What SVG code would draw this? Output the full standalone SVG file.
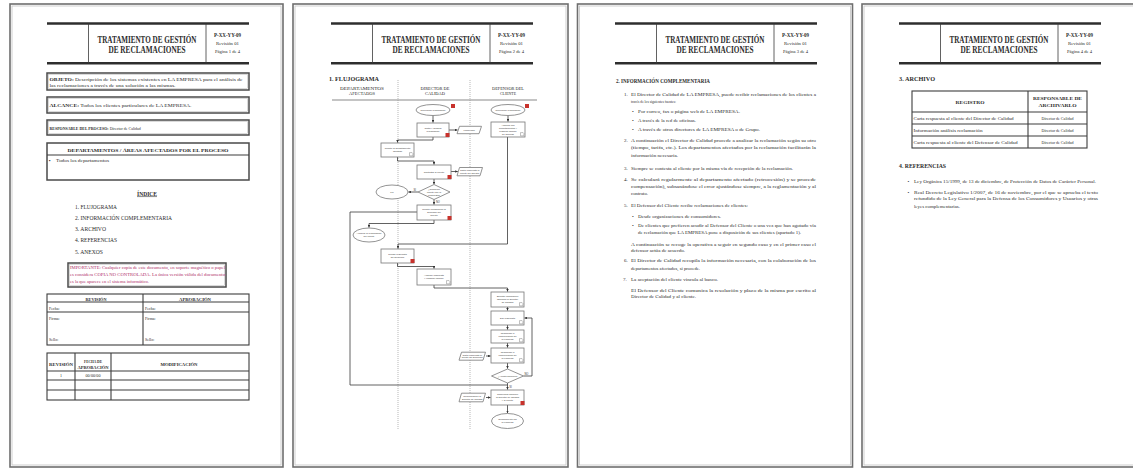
<svg xmlns="http://www.w3.org/2000/svg" xmlns:xlink="http://www.w3.org/1999/xlink" width="1133" height="468" viewBox="0 0 1133 468">
<style>
  text{font-family:"Liberation Serif","Times New Roman",serif;fill:#2b2b2b}
  .sheet{fill:#fff;stroke:#6e6e6e;stroke-width:1.6}
  .sheet-in{fill:none;stroke:#c4c4c4;stroke-width:0.8}
  .rule{stroke:#2e2e2e;stroke-width:2.4}
  .thin{stroke:#3a3a3a;stroke-width:0.8;fill:none}
  .box{fill:none;stroke:#4a4a4a;stroke-width:1.5}
  .box-in{fill:none;stroke:#b5b5b5;stroke-width:0.5}
  .tbl{fill:none;stroke:#3d3d3d;stroke-width:1.1}
  .title{font-size:9.5px;font-weight:bold;text-anchor:middle}
  .code{font-size:5.2px;font-weight:bold;text-anchor:middle}
  .meta{font-size:4.3px;text-anchor:middle}
  .t5{font-size:5px}
  .t45{font-size:4.5px}
  .hb{font-size:5.6px;font-weight:bold}
  .b{font-weight:bold}
  .mid{text-anchor:middle}
  .imp{font-size:4.3px;fill:#b0306a}
  .lane{stroke:#9a9a9a;stroke-width:0.7;stroke-dasharray:1 1}
  .fc{fill:#fff;stroke:#777;stroke-width:0.8}
  .fct{font-family:"Liberation Sans",Arial,sans-serif;font-size:2.4px;text-anchor:middle;fill:#333}
  .flag{fill:#c8322c;stroke:none}
  .doc{fill:#fff;stroke:#666;stroke-width:0.4}
  .wire{fill:none;stroke:#3a3a3a;stroke-width:0.8}
  .lbl{font-family:"Liberation Sans",Arial,sans-serif;font-size:2.6px;fill:#333}
</style>
<defs>
  <marker id="ah" viewBox="0 0 6 6" refX="6" refY="3" markerWidth="3.2" markerHeight="3.2" orient="auto">
    <path d="M0,0 L6,3 L0,6z" fill="#333"/>
  </marker>
  <!-- document title block shared by every sheet -->
  <g id="hdr">
    <line class="rule" x1="0" y1="23.5" x2="202" y2="23.5"/>
    <line class="rule" x1="0" y1="63.3" x2="202" y2="63.3"/>
    <line class="thin" x1="41.5" y1="23.5" x2="41.5" y2="63.3"/>
    <line class="thin" x1="159" y1="23.5" x2="159" y2="63.3"/>
    <text class="title" x="100" y="42.5" textLength="99" lengthAdjust="spacingAndGlyphs">TRATAMIENTO DE GESTIÓN</text>
    <text class="title" x="100" y="53.3" textLength="77" lengthAdjust="spacingAndGlyphs">DE RECLAMACIONES</text>
    <text class="code" x="180.5" y="36.5" textLength="27" lengthAdjust="spacingAndGlyphs">P-XX-YY-09</text>
    <text class="meta" x="180.5" y="44.8" textLength="23" lengthAdjust="spacingAndGlyphs">Revisión 01</text>
  </g>
  <path id="docicon" d="M0,0 h2.6 l0.8,0.8 v2.4 h-3.4z"/>
</defs>

<rect width="1133" height="468" fill="#fff"/>

<!-- ===================== Sheet 1: cover ===================== -->
<g id="page1">
  <rect class="sheet" x="10" y="4" width="273" height="463"/>
  <rect class="sheet-in" x="12" y="6" width="269" height="459"/>
  <use href="#hdr" x="47" y="0"/>
  <text class="meta" x="227.5" y="53.2" textLength="25" lengthAdjust="spacingAndGlyphs">Página 1 de 4</text>

  <g id="objeto">
    <rect class="box" x="47" y="73" width="202" height="17"/>
    <rect class="box-in" x="48.3" y="74.3" width="199.4" height="14.4"/>
    <text class="t5" x="49.5" y="80.6" textLength="193" lengthAdjust="spacingAndGlyphs"><tspan class="b">OBJETO:</tspan> Descripción de los sistemas existentes en LA EMPRESA para el análisis de</text>
    <text class="t5" x="49.5" y="87.4" textLength="126" lengthAdjust="spacingAndGlyphs">las reclamaciones a través de una solución a las mismas.</text>
  </g>
  <g id="alcance">
    <rect class="box" x="47" y="97" width="202" height="16"/>
    <rect class="box-in" x="48.3" y="98.3" width="199.4" height="13.4"/>
    <text class="t5" x="49.5" y="107.4" textLength="142" lengthAdjust="spacingAndGlyphs"><tspan class="b">ALCANCE:</tspan> Todos los clientes particulares de LA EMPRESA.</text>
  </g>
  <g id="responsable">
    <rect class="box" x="47" y="120" width="202" height="15"/>
    <rect class="box-in" x="48.3" y="121.3" width="199.4" height="12.4"/>
    <text class="t5" transform="translate(49.5 129.8) scale(0.79 1)"><tspan class="b">RESPONSABLE DEL PROCESO:</tspan> Director de Calidad</text>
  </g>
  <g id="departamentos">
    <rect class="box" x="47" y="143" width="202" height="37"/>
    <line class="tbl" x1="47" y1="155" x2="249" y2="155"/>
    <text class="t5 b mid" x="148" y="151.8" textLength="161" lengthAdjust="spacingAndGlyphs">DEPARTAMENTOS / ÁREAS AFECTADOS POR EL PROCESO</text>
    <text class="t45" x="49" y="162">▪</text>
    <text class="t5" x="56" y="162" textLength="53" lengthAdjust="spacingAndGlyphs">Todos los departamentos</text>
  </g>

  <g id="indice">
    <text class="mid b" x="147" y="195.5" font-size="5.4" text-decoration="underline" textLength="20" lengthAdjust="spacingAndGlyphs">ÍNDICE</text>
    <text x="75" y="209" font-size="5.2" fill="#444" textLength="42" lengthAdjust="spacingAndGlyphs">1. FLUJOGRAMA</text>
    <text x="75" y="220" font-size="5.2" fill="#444" textLength="97" lengthAdjust="spacingAndGlyphs">2. INFORMACIÓN COMPLEMENTARIA</text>
    <text x="75" y="231.3" font-size="5.2" fill="#444" textLength="31" lengthAdjust="spacingAndGlyphs">3. ARCHIVO</text>
    <text x="75" y="242.3" font-size="5.2" fill="#444" textLength="42" lengthAdjust="spacingAndGlyphs">4. REFERENCIAS</text>
    <text x="75" y="253.5" font-size="5.2" fill="#444" textLength="28" lengthAdjust="spacingAndGlyphs">5. ANEXOS</text>
  </g>

  <g id="importante">
    <rect class="box" x="68" y="263" width="158" height="24"/>
    <rect class="box-in" x="69.3" y="264.3" width="155.4" height="21.4"/>
    <text class="imp" x="70" y="269.2" textLength="155" lengthAdjust="spacingAndGlyphs">IMPORTANTE: Cualquier copia de este documento, en soporte magnético o papel</text>
    <text class="imp" x="70" y="276.3" textLength="155" lengthAdjust="spacingAndGlyphs">es considera COPIA NO CONTROLADA. La única versión válida del documento</text>
    <text class="imp" x="70" y="282.6" textLength="79" lengthAdjust="spacingAndGlyphs">es la que aparece en el sistema informático.</text>
  </g>

  <g id="firmas">
    <rect class="tbl" x="47" y="294" width="202" height="51"/>
    <line class="tbl" x1="143" y1="294" x2="143" y2="345"/>
    <line class="tbl" x1="47" y1="302" x2="249" y2="302"/>
    <line class="tbl" x1="47" y1="312" x2="249" y2="312"/>
    <text class="mid b" x="96" y="300.5" font-size="4.3" textLength="21" lengthAdjust="spacingAndGlyphs">REVISIÓN</text>
    <text class="mid b" x="195" y="300.5" font-size="4.3" textLength="32" lengthAdjust="spacingAndGlyphs">APROBACIÓN</text>
    <text x="49" y="309.6" font-size="4">Fecha:</text>
    <text x="145" y="309.6" font-size="4">Fecha:</text>
    <text x="49" y="320.3" font-size="4">Firma:</text>
    <text x="145" y="320.3" font-size="4">Firma:</text>
    <text x="49" y="341.2" font-size="4">Sello:</text>
    <text x="145" y="341.2" font-size="4">Sello:</text>
  </g>

  <g id="historial">
    <rect class="tbl" x="47" y="353" width="202" height="47"/>
    <line class="tbl" x1="75" y1="353" x2="75" y2="400"/>
    <line class="tbl" x1="111" y1="353" x2="111" y2="400"/>
    <line class="tbl" x1="47" y1="371" x2="249" y2="371"/>
    <line class="tbl" x1="47" y1="380" x2="249" y2="380"/>
    <line class="tbl" x1="47" y1="390" x2="249" y2="390"/>
    <text class="mid b" x="61" y="366.4" font-size="4" textLength="24" lengthAdjust="spacingAndGlyphs">REVISIÓN</text>
    <text class="mid b" x="93" y="362.6" font-size="4" textLength="18" lengthAdjust="spacingAndGlyphs">FECHA DE</text>
    <text class="mid b" x="93" y="368.6" font-size="4" textLength="31" lengthAdjust="spacingAndGlyphs">APROBACIÓN</text>
    <text class="mid b" x="179" y="366.4" font-size="4" textLength="37" lengthAdjust="spacingAndGlyphs">MODIFICACIÓN</text>
    <text class="mid" x="61" y="377.3" font-size="4">1</text>
    <text class="mid" x="93" y="377.3" font-size="4" textLength="15" lengthAdjust="spacingAndGlyphs">00/00/00</text>
  </g>
</g>

<!-- ===================== Sheet 2: flow chart ===================== -->
<g id="page2">
  <rect class="sheet" x="293" y="4" width="275" height="463"/>
  <rect class="sheet-in" x="295" y="6" width="271" height="459"/>
  <use href="#hdr" x="331" y="0"/>
  <text class="meta" x="511.5" y="53.2" textLength="25" lengthAdjust="spacingAndGlyphs">Página 2 de 4</text>
  <text class="hb" x="329" y="80.5" textLength="50" lengthAdjust="spacingAndGlyphs">1. FLUJOGRAMA</text>

  <g id="swimlanes">
    <text class="mid" x="362" y="89.5" font-size="3.4" textLength="44" lengthAdjust="spacingAndGlyphs">DEPARTAMENTOS</text>
    <text class="mid" x="362" y="94.5" font-size="3.4" textLength="26" lengthAdjust="spacingAndGlyphs">AFECTADOS</text>
    <text class="mid" x="435" y="89.5" font-size="3.4" textLength="29" lengthAdjust="spacingAndGlyphs">DIRECTOR DE</text>
    <text class="mid" x="435" y="94.5" font-size="3.4" textLength="20" lengthAdjust="spacingAndGlyphs">CALIDAD</text>
    <text class="mid" x="508" y="89.5" font-size="3.4" textLength="32" lengthAdjust="spacingAndGlyphs">DEFENSOR DEL</text>
    <text class="mid" x="508" y="94.5" font-size="3.4" textLength="16" lengthAdjust="spacingAndGlyphs">CLIENTE</text>
    <line x1="332" y1="100" x2="537" y2="100" stroke="#8a8a8a" stroke-width="1.2"/>
    <line class="lane" x1="398" y1="80" x2="398" y2="430"/>
    <line class="lane" x1="470" y1="80" x2="470" y2="430"/>
  </g>

  <g id="connectors">
    <path class="wire" d="M433,115.5 V122.6" marker-end="url(#ah)"/>
    <path class="wire" d="M508,115.5 V121.6" marker-end="url(#ah)"/>
    <path class="wire" d="M449,130 H457.5" marker-end="url(#ah)"/>
    <path class="wire" d="M433,137 V140 H397.5 V142.6" marker-end="url(#ah)"/>
    <path class="wire" d="M507.5,137 V244 H398 V248.6" marker-end="url(#ah)"/>
    <path class="wire" d="M397.5,157 V161 H434 V164.6" marker-end="url(#ah)"/>
    <path class="wire" d="M451,171.5 H457.8" marker-end="url(#ah)"/>
    <path class="wire" d="M434,179 V184.2" marker-end="url(#ah)"/>
    <path class="wire" d="M418,192 H408.4" marker-end="url(#ah)"/>
    <path class="wire" d="M434,199.5 V204.6" marker-end="url(#ah)"/>
    <path class="wire" d="M417,212 H350 V385 H507.5"/>
    <path class="wire" d="M434,220 V223.5 H369 V227.6" marker-end="url(#ah)"/>
    <path class="wire" d="M397.5,263 V266.5 H434 V268.6" marker-end="url(#ah)"/>
    <path class="wire" d="M434,285 V288 H507.5 V291.6" marker-end="url(#ah)"/>
    <path class="wire" d="M507.5,307 V310.6" marker-end="url(#ah)"/>
    <path class="wire" d="M507.5,325 V329.6" marker-end="url(#ah)"/>
    <path class="wire" d="M507.5,343 V347.6" marker-end="url(#ah)"/>
    <path class="wire" d="M486,356 H490.6" marker-end="url(#ah)"/>
    <path class="wire" d="M507.5,363 V368.6" marker-end="url(#ah)"/>
    <path class="wire" d="M523.5,376 H532 V318 H524.4" marker-end="url(#ah)"/>
    <path class="wire" d="M507.5,383 V389.6" marker-end="url(#ah)"/>
    <path class="wire" d="M486,397.5 H490.6" marker-end="url(#ah)"/>
    <path class="wire" d="M507.5,405 V413.1" marker-end="url(#ah)"/>
    <text class="lbl" x="413.5" y="190.5">SI</text>
    <text class="lbl" x="436" y="202.8">NO</text>
    <text class="lbl" x="524.5" y="374.8">NO</text>
    <text class="lbl" x="509.3" y="388">SI</text>
  </g>

  <g id="n-recepcion-director">
    <ellipse class="fc" cx="433" cy="110" rx="17" ry="5.5"/>
    <text class="fct" x="433" y="110.9">Recepción reclamación</text>
    <rect class="flag" x="451" y="104" width="4" height="4"/>
  </g>
  <g id="n-recepcion-defensor">
    <ellipse class="fc" cx="508" cy="110" rx="17" ry="5.5"/>
    <text class="fct" x="508" y="110.9">Recepción reclamación</text>
    <rect class="flag" x="525" y="104" width="4" height="4"/>
  </g>
  <g id="n-tratar">
    <rect class="fc" x="417" y="123" width="32" height="14"/>
    <text class="fct" x="433" y="129">Tratar y analizar</text>
    <text class="fct" x="433" y="132">reclamación</text>
    <rect class="flag" x="445.5" y="133" width="4" height="4"/>
  </g>
  <g id="n-formulario">
    <path class="fc" d="M459.5,126.3 H481.5 L479,133.7 H457z"/>
    <text class="fct" x="469.2" y="130.9">Formulario</text>
  </g>
  <g id="n-analizar-defensor">
    <rect class="fc" x="491" y="122" width="34" height="15"/>
    <text class="fct" x="508" y="126.3">Analizar con</text>
    <text class="fct" x="508" y="129.3">departamentos y</text>
    <text class="fct" x="508" y="132.3">elaborar informe</text>
    <text class="fct" x="508" y="135.3">de defensa</text>
    <use href="#docicon" class="doc" x="520.5" y="132.6"/>
  </g>
  <g id="n-remitir-departamento">
    <rect class="fc" x="381" y="143" width="33" height="14"/>
    <text class="fct" x="397.5" y="149">Remitir al departamento</text>
    <text class="fct" x="397.5" y="152">afectado</text>
    <use href="#docicon" class="doc" x="409.5" y="152.6"/>
  </g>
  <g id="n-contestar">
    <rect class="fc" x="417" y="165" width="34" height="14"/>
    <text class="fct" x="434" y="172.8">Contestar al cliente</text>
    <rect class="flag" x="447.5" y="175" width="4" height="4"/>
  </g>
  <g id="n-carta-director">
    <path class="fc" d="M459.5,167.5 H482.5 L480,175.8 H457z"/>
    <text class="fct" x="469.7" y="171">Carta respuesta al</text>
    <text class="fct" x="469.7" y="173.8">cliente del director</text>
  </g>
  <g id="n-conforme">
    <path class="fc" d="M434,184.5 L450,192 L434,199.5 L418,192z"/>
    <text class="fct" x="434" y="190.2">¿Conforme</text>
    <text class="fct" x="434" y="192.9">cliente con la</text>
    <text class="fct" x="434" y="195.6">respuesta?</text>
  </g>
  <g id="n-fin">
    <ellipse class="fc" cx="392" cy="192" rx="16" ry="7"/>
    <text class="fct" x="392" y="192.9">Fin</text>
  </g>
  <g id="n-remitir-defensor">
    <rect class="fc" x="417" y="205" width="34" height="15"/>
    <text class="fct" x="434" y="209.8">Remitir reclamación al</text>
    <text class="fct" x="434" y="212.8">Defensor del</text>
    <text class="fct" x="434" y="215.8">Cliente</text>
    <rect class="flag" x="447.5" y="216" width="4" height="4"/>
  </g>
  <g id="n-archivar">
    <ellipse class="fc" cx="369" cy="235" rx="16" ry="7"/>
    <text class="fct" x="369" y="234.3">Archivar la reclamación</text>
    <text class="fct" x="369" y="237.3">del cliente</text>
  </g>
  <g id="n-recibir">
    <rect class="fc" x="381" y="249" width="33" height="14"/>
    <text class="fct" x="397.5" y="255">Recibir respuesta</text>
    <text class="fct" x="397.5" y="258">del Defensor</text>
    <rect class="flag" x="410.5" y="259" width="4" height="4"/>
  </g>
  <g id="n-analizar-respuesta">
    <rect class="fc" x="417" y="269" width="34" height="16"/>
    <text class="fct" x="434" y="275.8">Analizar respuesta</text>
    <text class="fct" x="434" y="278.8">y elaborar informe</text>
    <use href="#docicon" class="doc" x="446.5" y="280.6"/>
  </g>
  <g id="n-solicitar">
    <rect class="fc" x="491" y="292" width="33" height="15"/>
    <text class="fct" x="507.5" y="296.8">Solicitar información</text>
    <text class="fct" x="507.5" y="299.8">adicional al Director</text>
    <text class="fct" x="507.5" y="302.8">de Calidad</text>
    <use href="#docicon" class="doc" x="519.5" y="302.6"/>
  </g>
  <g id="n-dar-respuesta">
    <rect class="fc" x="491" y="311" width="33" height="14"/>
    <text class="fct" x="507.5" y="318.8">Dar respuesta</text>
    <use href="#docicon" class="doc" x="519.5" y="320.6"/>
  </g>
  <g id="n-responder-1">
    <rect class="fc" x="491" y="330" width="33" height="13"/>
    <text class="fct" x="507.5" y="334.4">Responder a</text>
    <text class="fct" x="507.5" y="337.3">comunicación de</text>
    <text class="fct" x="507.5" y="340.2">la empresa</text>
    <use href="#docicon" class="doc" x="519.5" y="338.6"/>
  </g>
  <g id="n-responder-2">
    <rect class="fc" x="491" y="348" width="33" height="15"/>
    <text class="fct" x="507.5" y="353">Responder a</text>
    <text class="fct" x="507.5" y="356">comunicación de</text>
    <text class="fct" x="507.5" y="359">la empresa</text>
    <use href="#docicon" class="doc" x="519.5" y="358.6"/>
  </g>
  <g id="n-carta-defensor">
    <path class="fc" d="M461.5,352.2 H485.5 L483,360.2 H459z"/>
    <text class="fct" x="472.2" y="355.6">Carta respuesta al</text>
    <text class="fct" x="472.2" y="358.3">cliente del Defensor</text>
  </g>
  <g id="n-acepta">
    <path class="fc" d="M507.5,369 L523.5,376 L507.5,383 L491.5,376z"/>
    <text class="fct" x="507.5" y="376.9">¿Acepta solución?</text>
  </g>
  <g id="n-comunicar">
    <rect class="fc" x="491" y="390" width="33" height="15"/>
    <text class="fct" x="507.5" y="394.8">Comunicar solución</text>
    <text class="fct" x="507.5" y="397.8">al Director de Calidad</text>
    <text class="fct" x="507.5" y="400.8">y al cliente</text>
    <rect class="flag" x="520.5" y="401" width="4" height="4"/>
  </g>
  <g id="n-comunicacion-director">
    <path class="fc" d="M461.5,393.2 H485.5 L483,401.8 H459z"/>
    <text class="fct" x="472.2" y="396.9">Comunicación al</text>
    <text class="fct" x="472.2" y="399.7">Director de Calidad</text>
  </g>
  <g id="n-cumplimiento">
    <ellipse class="fc" cx="507.5" cy="421" rx="16" ry="7.5"/>
    <text class="fct" x="507.5" y="420.2">Cumplimiento por</text>
    <text class="fct" x="507.5" y="423.2">la empresa</text>
  </g>
</g>

<!-- ===================== Sheet 3: complementary information ===================== -->
<g id="page3">
  <rect class="sheet" x="577.5" y="4" width="275" height="463"/>
  <rect class="sheet-in" x="579.5" y="6" width="271" height="459"/>
  <use href="#hdr" x="615" y="0"/>
  <text class="meta" x="795.5" y="53.2" textLength="25" lengthAdjust="spacingAndGlyphs">Página 3 de 4</text>
  <text class="hb" x="616" y="83" textLength="94" lengthAdjust="spacingAndGlyphs">2. INFORMACIÓN COMPLEMENTARIA</text>

  <g id="info-list" class="t5">
    <text class="t5" x="624" y="96">1.</text>
    <text class="t5" x="631" y="96" textLength="185" lengthAdjust="spacingAndGlyphs">El Director de Calidad de LA EMPRESA, puede recibir reclamaciones de los clientes a</text>
    <text class="t5" x="631" y="103" textLength="45" lengthAdjust="spacingAndGlyphs">través de los siguientes fuentes:</text>
    <text class="t5" x="632" y="112.5">•</text>
    <text class="t5" x="638" y="112.5" textLength="102" lengthAdjust="spacingAndGlyphs">Por correo, fax o página web de LA EMPRESA.</text>
    <text class="t5" x="632" y="121.5">•</text>
    <text class="t5" x="638" y="121.5" textLength="58" lengthAdjust="spacingAndGlyphs">A través de la red de oficinas.</text>
    <text class="t5" x="632" y="130.5">•</text>
    <text class="t5" x="638" y="130.5" textLength="122" lengthAdjust="spacingAndGlyphs">A través de otros directores de LA EMPRESA o de Grupo.</text>

    <text class="t5" x="624" y="141.5">2.</text>
    <text class="t5" x="631" y="141.5" textLength="185" lengthAdjust="spacingAndGlyphs">A continuación el Director de Calidad procede a  analizar la reclamación según su otro</text>
    <text class="t5" x="631" y="149" textLength="185" lengthAdjust="spacingAndGlyphs">(tiempo, tarifa, etc.). Los departamentos afectados por la reclamación facilitarán la</text>
    <text class="t5" x="631" y="156.5" textLength="47" lengthAdjust="spacingAndGlyphs">información necesaria.</text>

    <text class="t5" x="624" y="169.5">3.</text>
    <text class="t5" x="631" y="169.5" textLength="162" lengthAdjust="spacingAndGlyphs">Siempre se contesta al cliente por la misma vía de recepción de la reclamación.</text>

    <text class="t5" x="624" y="180.5">4.</text>
    <text class="t5" x="631" y="180.5" textLength="185" lengthAdjust="spacingAndGlyphs">Se calculará regularmente al departamento afectado (retrocesión) y se procede</text>
    <text class="t5" x="631" y="187.5" textLength="185" lengthAdjust="spacingAndGlyphs">compensación), subsanándose el error ajustándose siempre, a la reglamentación y al</text>
    <text class="t5" x="631" y="194.8" textLength="17" lengthAdjust="spacingAndGlyphs">contrato.</text>

    <text class="t5" x="624" y="206.5">5.</text>
    <text class="t5" x="631" y="206.5" textLength="117" lengthAdjust="spacingAndGlyphs">El Defensor del Cliente recibe reclamaciones de clientes:</text>
    <text class="t5" x="632" y="217.5">•</text>
    <text class="t5" x="638" y="217.5" textLength="83" lengthAdjust="spacingAndGlyphs">Desde organizaciones de consumidores.</text>
    <text class="t5" x="632" y="227.3">•</text>
    <text class="t5" x="638" y="227.3" textLength="178" lengthAdjust="spacingAndGlyphs">De clientes que prefieren acudir al Defensor del Cliente o una vez que han agotado vía</text>
    <text class="t5" x="638" y="233.5" textLength="163" lengthAdjust="spacingAndGlyphs">de reclamación que LA EMPRESA pone a disposición de sus clientes (apartado 1).</text>

    <text class="t5" x="631" y="245.8" textLength="185" lengthAdjust="spacingAndGlyphs">A continuación se recoge la operativa a seguir en segundo caso y en el primer caso el</text>
    <text class="t5" x="631" y="252" textLength="54" lengthAdjust="spacingAndGlyphs">defensor actúa de acuerdo.</text>

    <text class="t5" x="624" y="262">6.</text>
    <text class="t5" x="631" y="262" textLength="185" lengthAdjust="spacingAndGlyphs">El Director de Calidad recopila la información necesaria, con la colaboración de los</text>
    <text class="t5" x="631" y="269.8" textLength="69" lengthAdjust="spacingAndGlyphs">departamentos afectados, si procede.</text>

    <text class="t5" x="623" y="280.6">7.</text>
    <text class="t5" x="631" y="280.6" textLength="87" lengthAdjust="spacingAndGlyphs">La aceptación del cliente vincula al banco.</text>
    <text class="t5" x="631" y="291.6" textLength="185" lengthAdjust="spacingAndGlyphs">El Defensor del Cliente comunica la resolución y plazo de la misma por escrito al</text>
    <text class="t5" x="631" y="298.3" textLength="65" lengthAdjust="spacingAndGlyphs">Director de Calidad y al cliente.</text>
  </g>
</g>

<!-- ===================== Sheet 4: records and references ===================== -->
<g id="page4">
  <rect class="sheet" x="862" y="4" width="275" height="463"/>
  <rect class="sheet-in" x="864" y="6" width="271" height="459"/>
  <use href="#hdr" x="899" y="0"/>
  <text class="meta" x="1079.5" y="53.2" textLength="25" lengthAdjust="spacingAndGlyphs">Página 4 de 4</text>
  <text class="hb" x="899" y="81" textLength="36" lengthAdjust="spacingAndGlyphs">3. ARCHIVO</text>

  <g id="archivo-tabla">
    <rect class="tbl" x="912" y="91" width="175" height="57"/>
    <line class="tbl" x1="1028" y1="91" x2="1028" y2="148"/>
    <line class="tbl" x1="912" y1="112" x2="1087" y2="112"/>
    <line class="tbl" x1="912" y1="124" x2="1087" y2="124"/>
    <line class="tbl" x1="912" y1="136" x2="1087" y2="136"/>
    <text class="mid b" x="970" y="103.5" font-size="4.4" textLength="29" lengthAdjust="spacingAndGlyphs">REGISTRO</text>
    <text class="mid b" x="1057.5" y="100" font-size="4.4" textLength="49" lengthAdjust="spacingAndGlyphs">RESPONSABLE DE</text>
    <text class="mid b" x="1057.5" y="107.3" font-size="4.4" textLength="38" lengthAdjust="spacingAndGlyphs">ARCHIVARLO</text>
    <text x="913.5" y="119.8" font-size="4.2" textLength="100" lengthAdjust="spacingAndGlyphs">Carta respuesta al cliente del Director de Calidad</text>
    <text x="913.5" y="131.6" font-size="4.2" textLength="69" lengthAdjust="spacingAndGlyphs">Información análisis reclamación</text>
    <text x="913.5" y="143.6" font-size="4.2" textLength="104" lengthAdjust="spacingAndGlyphs">Carta respuesta al cliente del Defensor de Calidad</text>
    <text class="mid" x="1057.5" y="119.8" font-size="4.2" textLength="32" lengthAdjust="spacingAndGlyphs">Director de Calidad</text>
    <text class="mid" x="1057.5" y="131.6" font-size="4.2" textLength="32" lengthAdjust="spacingAndGlyphs">Director de Calidad</text>
    <text class="mid" x="1057.5" y="143.6" font-size="4.2" textLength="32" lengthAdjust="spacingAndGlyphs">Director de Calidad</text>
  </g>

  <text class="hb" x="899" y="167.5" textLength="47" lengthAdjust="spacingAndGlyphs">4. REFERENCIAS</text>
  <g id="referencias">
    <text class="t5" x="907.5" y="182.5">•</text>
    <text class="t5" x="914" y="182.5" textLength="182" lengthAdjust="spacingAndGlyphs">Ley Orgánica 15/1999, de 13 de diciembre, de Protección de Datos de Carácter Personal.</text>
    <text class="t5" x="907.5" y="193.5">•</text>
    <text class="t5" x="914" y="193.5" textLength="184" lengthAdjust="spacingAndGlyphs">Real Decreto Legislativo 1/2007, de 16 de noviembre, por el que se aprueba el texto</text>
    <text class="t5" x="914" y="200" textLength="184" lengthAdjust="spacingAndGlyphs">refundido de la Ley General para la Defensa de los Consumidores y Usuarios y otras</text>
    <text class="t5" x="914" y="207.5" textLength="46" lengthAdjust="spacingAndGlyphs">leyes complementarias.</text>
  </g>
</g>
</svg>
